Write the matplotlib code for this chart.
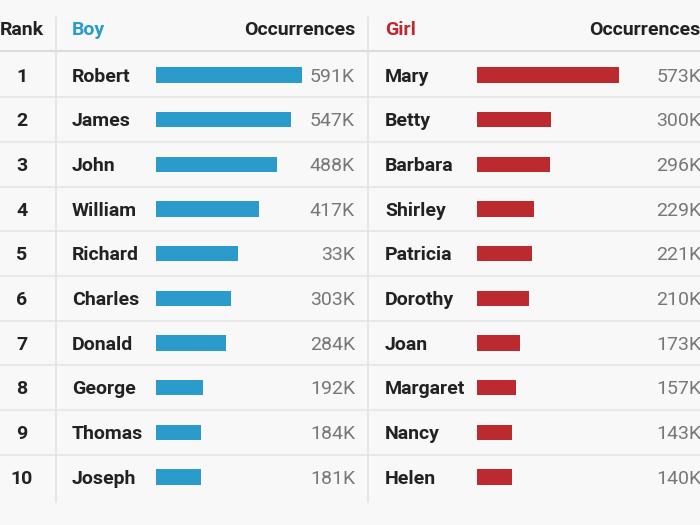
import matplotlib.pyplot as plt

ranks = [1, 2, 3, 4, 5, 6, 7, 8, 9, 10]
boys = ["Robert", "James", "John", "William", "Richard", "Charles", "Donald", "George", "Thomas", "Joseph"]
boy_vals = [591, 547, 488, 417, 333, 303, 284, 192, 184, 181]
boy_labels = ["591K", "547K", "488K", "417K", "33K", "303K", "284K", "192K", "184K", "181K"]
girls = ["Mary", "Betty", "Barbara", "Shirley", "Patricia", "Dorothy", "Joan", "Margaret", "Nancy", "Helen"]
girl_vals = [573, 300, 296, 229, 221, 210, 173, 157, 143, 140]
girl_labels = ["573K", "300K", "296K", "229K", "221K", "210K", "173K", "157K", "143K", "140K"]

bg = '#f8f8f8'
blue = '#2b9bcb'
red = '#bb2a2e'
dark = '#222222'
grey = '#777777'
plt.rcParams['font.family'] = ['Roboto', 'DejaVu Sans']

W, H = 700, 525
fig = plt.figure(figsize=(7, 5.25), dpi=100, facecolor=bg)
ax = fig.add_axes([0, 0, 1, 1])
ax.set_xlim(0, W)
ax.set_ylim(H, 0)
ax.axis('off')

row0 = 75
step = 44.67
ys = [row0 + step * i for i in range(10)]
fs = 14

# header
hy = 30
ax.text(0, hy, "Rank", ha='left', va='center', fontsize=fs, fontweight='bold', color=dark)
ax.text(72, hy, "Boy", ha='left', va='center', fontsize=fs, fontweight='bold', color=blue)
ax.text(355, hy, "Occurrences", ha='right', va='center', fontsize=fs, fontweight='bold', color=dark)
ax.text(385, hy, "Girl", ha='left', va='center', fontsize=fs, fontweight='bold', color=red)
ax.text(700, hy, "Occurrences", ha='right', va='center', fontsize=fs, fontweight='bold', color=dark)

# grid lines
ax.plot([0, W], [51, 51], color='#dcdcdc', lw=1.5)
for y in ys[:-1]:
    ax.plot([0, W], [y + step / 2, y + step / 2], color='#e6e6e6', lw=1.2)
for x in (55.5, 367.5):
    ax.plot([x, x], [17, 502], color='#e3e3e3', lw=1.2)

for i, y in enumerate(ys):
    ax.text(22, y + 1.5, str(ranks[i]), ha='center', va='center', fontsize=fs, fontweight='bold', color=dark)
    ax.text(72, y + 1.5, boys[i], ha='left', va='center', fontsize=fs, fontweight='bold', color=dark)
    ax.text(355, y + 1.5, boy_labels[i], ha='right', va='center', fontsize=fs, color=grey)
    ax.text(701, y + 1.5, girl_labels[i], ha='right', va='center', fontsize=fs, color=grey, clip_on=False)
    ax.text(385, y + 1.5, girls[i], ha='left', va='center', fontsize=fs, fontweight='bold', color=dark)

# bar axes in data units
px_per_k = 0.2472
xmax = 600
top = ys[0] - step / 2
bot = ys[-1] + step / 2
for left, vals, col in ((156, boy_vals, blue), (477, girl_vals, red)):
    bax = fig.add_axes([left / W, 1 - bot / H, xmax * px_per_k / W, (bot - top) / H])
    bax.barh(range(10), vals, height=0.34, color=col, left=0)
    bax.set_xlim(0, xmax)
    bax.set_ylim(9.5, -0.5)
    bax.axis('off')

fig.savefig('out.png', dpi=100, facecolor=bg)
